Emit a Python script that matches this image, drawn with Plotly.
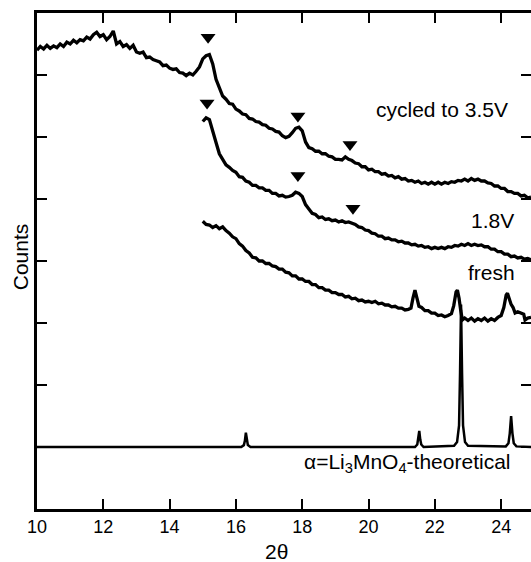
import plotly.graph_objects as go

# XRD patterns, 2-theta vs counts (vertically offset), scan step 0.1 deg
cyc35_x = [round(10.0 + 0.1 * i, 2) for i in range(150)]
cyc35_y = [7.40, 7.46, 7.42, 7.48, 7.43, 7.47, 7.44, 7.50, 7.46, 7.53,
           7.50, 7.56, 7.52, 7.57, 7.55, 7.61, 7.58, 7.65, 7.69, 7.62,
           7.65, 7.57, 7.62, 7.71, 7.50, 7.54, 7.46, 7.49, 7.43, 7.48,
           7.37, 7.35, 7.37, 7.28, 7.29, 7.25, 7.23, 7.21, 7.15, 7.16,
           7.11, 7.09, 7.10, 7.04, 7.03, 6.99, 7.03, 7.00, 7.06, 7.13,
           7.26, 7.31, 7.33, 7.18, 6.93, 6.79, 6.66, 6.61, 6.54, 6.53,
           6.45, 6.42, 6.37, 6.36, 6.30, 6.29, 6.25, 6.24, 6.20, 6.19,
           6.14, 6.13, 6.09, 6.08, 6.02, 5.99, 6.01, 6.07, 6.14, 6.16,
           6.10, 5.92, 5.83, 5.81, 5.77, 5.77, 5.73, 5.73, 5.69, 5.68,
           5.64, 5.64, 5.63, 5.68, 5.64, 5.62, 5.58, 5.57, 5.52, 5.52,
           5.47, 5.48, 5.44, 5.44, 5.40, 5.41, 5.37, 5.38, 5.34, 5.36,
           5.32, 5.33, 5.29, 5.30, 5.27, 5.29, 5.25, 5.27, 5.24, 5.27,
           5.24, 5.27, 5.24, 5.27, 5.25, 5.28, 5.27, 5.30, 5.29, 5.32,
           5.29, 5.33, 5.30, 5.32, 5.29, 5.29, 5.26, 5.25, 5.21, 5.21,
           5.17, 5.17, 5.12, 5.12, 5.09, 5.09, 5.05, 5.06, 5.02, 5.03]

cyc18_x = [round(15.0 + 0.1 * i, 2) for i in range(100)]
cyc18_y = [6.25, 6.31, 6.28, 6.07, 5.91, 5.73, 5.63, 5.55, 5.51, 5.46,
           5.43, 5.36, 5.35, 5.29, 5.27, 5.22, 5.22, 5.18, 5.18, 5.14,
           5.14, 5.09, 5.09, 5.05, 5.06, 5.03, 5.04, 5.06, 5.11, 5.09,
           5.04, 4.91, 4.84, 4.77, 4.75, 4.70, 4.71, 4.67, 4.68, 4.65,
           4.66, 4.63, 4.65, 4.62, 4.63, 4.61, 4.59, 4.55, 4.54, 4.50,
           4.49, 4.45, 4.44, 4.40, 4.40, 4.36, 4.37, 4.34, 4.34, 4.31,
           4.32, 4.29, 4.29, 4.26, 4.27, 4.24, 4.25, 4.22, 4.23, 4.20,
           4.22, 4.20, 4.22, 4.20, 4.23, 4.22, 4.25, 4.24, 4.27, 4.25,
           4.28, 4.25, 4.27, 4.25, 4.26, 4.23, 4.23, 4.19, 4.19, 4.15,
           4.15, 4.11, 4.11, 4.07, 4.08, 4.05, 4.06, 4.03, 4.04, 4.02]

fresh_x = [15.0, 15.1, 15.2, 15.3, 15.4, 15.5, 15.6, 15.7, 15.8, 15.9,
           16.0, 16.1, 16.2, 16.3, 16.4, 16.5, 16.6, 16.7, 16.8, 16.9,
           17.0, 17.1, 17.2, 17.3, 17.4, 17.5, 17.6, 17.7, 17.8, 17.9,
           18.0, 18.1, 18.2, 18.3, 18.4, 18.5, 18.6, 18.7, 18.8, 18.9,
           19.0, 19.1, 19.2, 19.3, 19.4, 19.5, 19.6, 19.7, 19.8, 19.9,
           20.0, 20.1, 20.2, 20.3, 20.4, 20.5, 20.6, 20.7, 20.8, 20.9,
           21.0, 21.1, 21.2, 21.28, 21.34, 21.40, 21.46, 21.52, 21.6, 21.7,
           21.8, 21.9, 22.0, 22.1, 22.2, 22.3, 22.4, 22.5, 22.57, 22.64,
           22.68, 22.73, 22.78, 22.83, 22.9, 23.0, 23.1, 23.2, 23.3, 23.4,
           23.5, 23.6, 23.7, 23.8, 23.9, 24.0, 24.08, 24.15, 24.19, 24.24,
           24.30, 24.36, 24.42, 24.5, 24.6, 24.68, 24.72, 24.8, 24.9]
fresh_y = [4.64, 4.59, 4.58, 4.54, 4.57, 4.52, 4.55, 4.49, 4.45, 4.39,
           4.36, 4.28, 4.24, 4.17, 4.13, 4.06, 4.05, 4.00, 4.00, 3.96,
           3.96, 3.92, 3.91, 3.87, 3.87, 3.82, 3.81, 3.76, 3.76, 3.71,
           3.71, 3.67, 3.67, 3.62, 3.62, 3.57, 3.57, 3.53, 3.53, 3.49,
           3.49, 3.46, 3.46, 3.42, 3.43, 3.39, 3.40, 3.36, 3.37, 3.34,
           3.35, 3.33, 3.35, 3.31, 3.32, 3.29, 3.29, 3.26, 3.27, 3.24,
           3.24, 3.21, 3.22, 3.24, 3.40, 3.53, 3.40, 3.27, 3.25, 3.20,
           3.20, 3.16, 3.16, 3.12, 3.13, 3.10, 3.12, 3.15, 3.28, 3.50,
           3.53, 3.40, 3.20, 3.05, 3.08, 3.04, 3.08, 3.03, 3.07, 3.04,
           3.08, 3.03, 3.07, 3.04, 3.09, 3.12, 3.25, 3.45, 3.48, 3.38,
           3.30, 3.25, 3.16, 3.18, 3.15, 3.14, 3.05, 3.08, 3.09]

# calculated pattern (peak profile points)
theo_x = [10.00, 16.16, 16.24, 16.27, 16.30, 16.33, 16.36, 16.44,
          21.40, 21.47, 21.50, 21.53, 21.56, 21.59, 21.66,
          22.58, 22.67, 22.73, 22.76, 22.79, 22.82, 22.85, 22.91, 23.00,
          24.14, 24.22, 24.26, 24.30, 24.34, 24.38, 24.46, 24.90]
theo_y = [1.00, 1.00, 1.03, 1.10, 1.23, 1.10, 1.03, 1.00,
          1.00, 1.04, 1.12, 1.26, 1.12, 1.04, 1.00,
          1.02, 1.08, 1.35, 2.20, 3.30, 2.20, 1.35, 1.08, 1.02,
          1.01, 1.06, 1.22, 1.50, 1.22, 1.06, 1.01, 1.00]

# reflections marked with arrows
mark_x = [15.16, 17.87, 19.44, 15.13, 17.87, 19.53]
mark_y = [7.61, 6.34, 5.88, 6.55, 5.38, 4.85]

labels = ["cycled to 3.5V", "1.8V", "fresh", "α=Li<sub>3</sub>MnO<sub>4</sub>-theoretical"]
label_x = [22.22, 23.73, 23.70, 21.16]
label_y = [6.44, 4.66, 3.82, 0.74]

x_ticks = [10, 12, 14, 16, 18, 20, 22, 24]
y_ticks = [1, 2, 3, 4, 5, 6, 7]

FONT = "Arial, 'Liberation Sans', sans-serif"

fig = go.Figure()
for xs, ys in [(cyc35_x, cyc35_y), (cyc18_x, cyc18_y), (fresh_x, fresh_y)]:
    fig.add_trace(go.Scatter(x=xs, y=ys, mode="lines", line=dict(color="black", width=3.3),
                             showlegend=False, hoverinfo="skip"))
fig.add_trace(go.Scatter(x=theo_x, y=theo_y, mode="lines", line=dict(color="black", width=2.5),
                         showlegend=False, hoverinfo="skip"))
fig.add_trace(go.Scatter(x=mark_x, y=mark_y, mode="markers",
                         marker=dict(symbol="triangle-down", size=13, color="black"),
                         showlegend=False, hoverinfo="skip"))
# carrier for the right-hand tick marks
fig.add_trace(go.Scatter(x=[10], y=[0], yaxis="y2", mode="markers", opacity=0,
                         showlegend=False, hoverinfo="skip"))

for t, lx, ly in zip(labels, label_x, label_y):
    fig.add_annotation(x=lx, y=ly, text=t, showarrow=False,
                       font=dict(family=FONT, size=21, color="black"))

fig.add_annotation(xref="paper", yref="paper", x=-0.034, y=0.508, text="Counts", textangle=-90,
                   xanchor="center", yanchor="middle", showarrow=False,
                   font=dict(family=FONT, size=21, color="black"))
fig.add_annotation(x=17.21, yref="paper", y=-0.085, text="2θ", showarrow=False,
                   xanchor="center", yanchor="middle",
                   font=dict(family=FONT, size=21, color="black"))

fig.update_layout(
    width=531, height=562,
    margin=dict(l=37, r=0, t=13, b=53),
    paper_bgcolor="white", plot_bgcolor="white",
    xaxis=dict(range=[10, 24.9], tickvals=x_ticks, ticks="inside", ticklen=10, tickwidth=2,
               tickcolor="black", showline=True, linecolor="black", linewidth=2.5,
               mirror="ticks", showgrid=False, zeroline=False,
               tickfont=dict(family=FONT, size=18, color="black")),
    yaxis=dict(range=[0, 8], tickvals=y_ticks, ticks="inside", ticklen=10, tickwidth=2,
               tickcolor="black", showline=True, linecolor="black", linewidth=2.5,
               showticklabels=False, showgrid=False, zeroline=False),
    yaxis2=dict(range=[0, 8], tickvals=y_ticks, ticks="inside", ticklen=10, tickwidth=2,
                tickcolor="black", overlaying="y", side="right", showline=False,
                showticklabels=False, showgrid=False, zeroline=False),
)

fig.write_html("out.html")
